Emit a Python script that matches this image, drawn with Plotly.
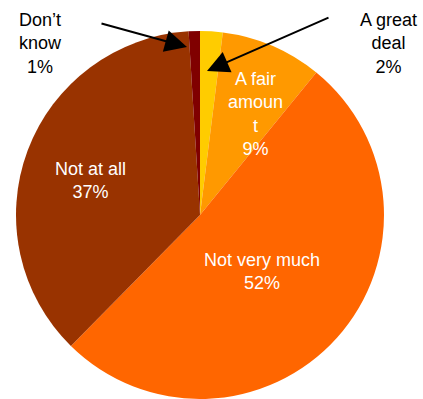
import plotly.graph_objects as go

labels = ["A great deal", "A fair amount", "Not very much", "Not at all", "Don\u2019t know"]
values = [2, 9, 52, 37, 1]
colors = ["#FFCC00", "#FF9900", "#FF6600", "#993300", "#800000"]

W, H = 423, 399

fig = go.Figure(go.Pie(
    labels=labels, values=values, sort=False, direction="clockwise", rotation=0,
    marker=dict(colors=colors, line=dict(width=0)),
    textinfo="none", hoverinfo="label+percent",
    domain=dict(x=[13/W, 387/W], y=[0, 368/H]),
    showlegend=False,
))

def P(px, py):
    return px / W, 1 - py / H

font = dict(family="Liberation Sans, Arial, sans-serif", size=18)
texts = [
    ("Don\u2019t<br>know<br>1%", 40, 43, "black"),
    ("A great<br>deal<br>2%", 388, 43, "black"),
    ("A fair<br>amoun<br>t<br>9%", 255, 114, "white"),
    ("Not at all<br>37%", 90, 181, "white"),
    ("Not very much<br>52%", 262, 271, "white"),
]
anns = []
for t, x, y, c in texts:
    xx, yy = P(x, y)
    anns.append(dict(text=t, x=xx, y=yy, xref="paper", yref="paper", showarrow=False,
                     font=dict(color=c, **font), align="center", xanchor="center", yanchor="middle"))

arrows = [((187, 47), (100, 23)), ((207, 71), (330, 17))]
for (tx, ty), (sx, sy) in arrows:
    xx, yy = P(tx, ty)
    anns.append(dict(text="", x=xx, y=yy, xref="paper", yref="paper", showarrow=True,
                     ax=sx - tx, ay=sy - ty, arrowhead=2, arrowsize=2.2, arrowwidth=2,
                     arrowcolor="black"))

fig.update_layout(width=W, height=H, margin=dict(l=0, r=0, t=0, b=0),
                  paper_bgcolor="white", plot_bgcolor="white", annotations=anns)
fig.write_html("out.html", config={"displayModeBar": False},
               post_script="document.body.style.margin='0';document.body.style.overflow='hidden';")
